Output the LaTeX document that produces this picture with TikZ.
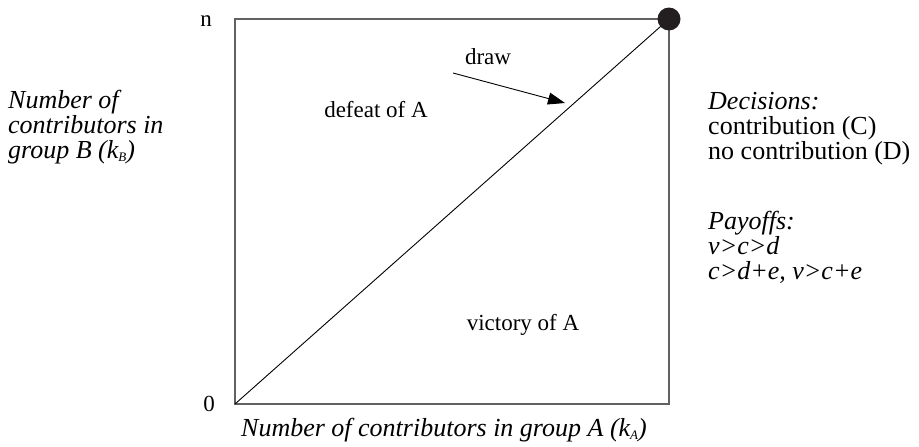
\documentclass[tikz,border=0pt]{standalone}
\usepackage{fontspec}
\setmainfont{Liberation Serif}
\usetikzlibrary{arrows.meta}
\newcommand{\subtxt}[1]{\raisebox{-0.3ex}{\fontsize{13}{13}\selectfont #1}}
\begin{document}
\begin{tikzpicture}[x=1pt,y=-1pt,
  outer/.style={font=\fontsize{26}{26}\selectfont, inner sep=0pt, align=left},
  inner/.style={font=\fontsize{23}{24}\selectfont, inner sep=0pt},
  frame/.style={draw=black!62, line width=1.3pt},
  diag/.style={draw=black, line width=0.9pt},
  pointer/.style={draw=black, line width=0.9pt, -{Triangle[length=17pt,width=12pt]}}]
\useasboundingbox (0,0) rectangle (919,447);
% corners
\coordinate (BL) at (235,404);
\coordinate (TR) at (669,19);
\coordinate (TL) at (235,19);
\coordinate (BR) at (669,404);
\draw[frame] (TL) -- (TR) -- (BR) -- (BL) -- cycle;
\draw[diag] (BL) -- (TR);
\fill[fill={rgb,255:red,35;green,31;blue,32}] (TR) circle (11.5);
% axis ticks
\node[inner, anchor=base] (n) at (206,26) {n};
\node[inner, anchor=base] (zero) at (209,411) {0};
% axis labels
\node[outer, anchor=base] (xlab) at (444,436) {\itshape Number of contributors in group A (k\subtxt{A})};
\node[outer, anchor=base west] (ylab1) at (8,108) {\itshape Number of};
\node[outer, anchor=base west] (ylab2) at (8,133) {\itshape contributors in};
\node[outer, anchor=base west] (ylab3) at (8,158) {\itshape group B (k\subtxt{B})};
% regions
\node[inner, anchor=base] (defeat) at (376,117) {defeat of A};
\node[inner, anchor=base] (victory) at (523,330) {victory of A};
\node[inner, anchor=base] (drawlab) at (488,64) {draw};
\coordinate (arrS) at (453,73);
\coordinate (arrE) at (565,103);
\draw[pointer] (arrS) -- (arrE);
% decisions
\node[outer, anchor=base west] (dec1) at (708,109) {\itshape Decisions:};
\node[outer, anchor=base west] (dec2) at (708,134) {contribution (C)};
\node[outer, anchor=base west] (dec3) at (708,159) {no contribution (D)};
% payoffs
\node[outer, anchor=base west] (pay1) at (708,229) {\itshape Payoffs:};
\node[outer, anchor=base west] (pay2) at (708,254) {\itshape v>c>d};
\node[outer, anchor=base west] (pay3) at (708,279) {\itshape c>d+e, v>c+e};
\end{tikzpicture}
\end{document}
